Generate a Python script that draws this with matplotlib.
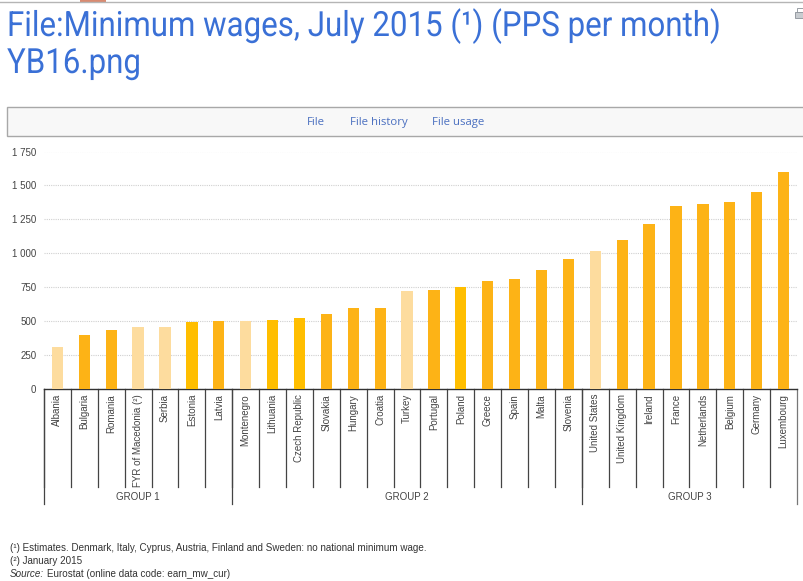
import matplotlib
matplotlib.use('Agg')
import matplotlib.pyplot as plt
from matplotlib.patches import Rectangle
from matplotlib.patheffects import AbstractPathEffect
from matplotlib.transforms import Affine2D

W, H = 804, 581

countries = ['Albania', 'Bulgaria', 'Romania', 'FYR of Macedonia (²)', 'Serbia', 'Estonia', 'Latvia',
             'Montenegro', 'Lithuania', 'Czech Republic', 'Slovakia', 'Hungary', 'Croatia', 'Turkey',
             'Portugal', 'Poland', 'Greece', 'Spain', 'Malta', 'Slovenia',
             'United States', 'United Kingdom', 'Ireland', 'France', 'Netherlands', 'Belgium', 'Germany',
             'Luxembourg']
wages = [310, 400, 435, 455, 458, 492, 500,
         503, 505, 520, 552, 600, 600, 722,
         728, 748, 793, 813, 875, 955,
         1020, 1095, 1215, 1352, 1360, 1375, 1450,
         1597]
groups = ['GROUP 1', 'GROUP 2', 'GROUP 3']
group_sizes = [7, 13, 8]
y_ticks = [0, 250, 500, 750, 1000, 1250, 1500, 1750]
y_labels = ['0', '250', '500', '750', '1 000', '1 250', '1 500', '1 750']

LIGHT, ORANGE, YELLOW = '#fddc9e', '#fdb316', '#ffbe00'
bar_colors = [LIGHT, ORANGE, ORANGE, LIGHT, LIGHT, YELLOW, ORANGE,
              LIGHT, YELLOW, YELLOW, ORANGE, ORANGE, ORANGE, LIGHT,
              ORANGE, YELLOW, ORANGE, ORANGE, ORANGE, ORANGE,
              LIGHT, ORANGE, ORANGE, ORANGE, ORANGE, ORANGE, ORANGE, ORANGE]


class Condensed(AbstractPathEffect):
    # squeezes text horizontally, no condensed font is installed
    def __init__(self, x0, sx):
        super().__init__()
        self.x0, self.sx = x0, sx

    def draw_path(self, renderer, gc, tpath, affine, rgbFace=None):
        squeeze = Affine2D().translate(-self.x0, 0).scale(self.sx, 1).translate(self.x0, 0)
        renderer.draw_path(gc, tpath, affine + squeeze, rgbFace)


plt.rcParams['font.family'] = ['Liberation Sans', 'DejaVu Sans']
fig = plt.figure(figsize=(W / 100, H / 100), dpi=100, facecolor='white')

# page furniture, in pixel coordinates
page = fig.add_axes([0, 0, 1, 1])
page.set_xlim(0, W)
page.set_ylim(H, 0)
page.axis('off')
page.plot([0, W], [1.5, 1.5], color='#b5b5b5', lw=1)
page.add_patch(Rectangle((80, 0), 26, 1.5, color='#d98a70', lw=0))
page.add_patch(Rectangle((7, 107), 805, 29, facecolor='#f8f8f8', edgecolor='#a8a8a8', lw=1))
page.add_patch(Rectangle((795, 12), 9, 6, facecolor='#c8ccd0', edgecolor='#8a9098', lw=0.6))
page.add_patch(Rectangle((797, 8), 7, 4, facecolor='white', edgecolor='#8a9098', lw=0.6))

title_fx = [Condensed(7, 0.9)]
page.text(7, 36, 'File:Minimum wages, July 2015 (¹) (PPS per month)', color='#3a70d6',
          fontsize=25, family=['Roboto', 'DejaVu Sans'], va='baseline', path_effects=title_fx)
page.text(7, 73, 'YB16.png', color='#3a70d6', fontsize=25, family=['Roboto', 'DejaVu Sans'],
          va='baseline', path_effects=title_fx)
for x, label in zip([316, 378.5, 458], ['File', 'File history', 'File usage']):
    page.text(x, 122.5, label, color='#4a6fc0', fontsize=8.2, family='Open Sans', ha='center', va='center')

# chart
ax = fig.add_axes([44 / W, 1 - 389 / H, (797 - 44) / W, (389 - 151.5) / H])
ax.patch.set_alpha(0)
positions = list(range(len(countries)))
ax.bar(positions, wages, width=0.42, color=bar_colors, zorder=3)
ax.set_xlim(-0.5, len(countries) - 0.5)
ax.set_ylim(0, 1750)
ax.set_yticks(y_ticks, y_labels, fontsize=7, color='#444444')
ax.tick_params(axis='y', length=0, pad=5.5)
ax.set_xticks([])
ax.grid(axis='y', color='#d0d0d0', lw=0.8, ls=(0, (1, 1)), zorder=0)
ax.set_axisbelow(True)
for side in ['top', 'right', 'left']:
    ax.spines[side].set_visible(False)
ax.spines['bottom'].set_color('#333333')
ax.spines['bottom'].set_linewidth(1)

# two level axis below the bars
trans = ax.get_xaxis_transform()
short_drop = -98 / (389 - 151.5)
long_drop = -115 / (389 - 151.5)
for i, name in enumerate(countries):
    ax.plot([i - 0.5, i - 0.5], [0, short_drop], transform=trans, color='#444444', lw=0.9, clip_on=False)
    ax.text(i, -5 / (389 - 151.5), name, transform=trans, rotation=90, ha='center', va='top',
            fontsize=7, color='#444444')

start = 0
for name, size in zip(groups, group_sizes):
    ax.plot([start - 0.5, start - 0.5], [0, long_drop], transform=trans, color='#444444', lw=0.9, clip_on=False)
    ax.text(start - 0.5 + size / 2, -108 / (389 - 151.5), name, transform=trans, ha='center', va='center',
            fontsize=7, color='#444444')
    start += size
ax.plot([start - 0.5, start - 0.5], [0, long_drop], transform=trans, color='#777777', lw=0.9, clip_on=False)

# notes
page.text(10, 548, '(¹) Estimates. Denmark, Italy, Cyprus, Austria, Finland and Sweden: no national minimum wage.',
          fontsize=7.12, color='#333333', va='center')
page.text(10, 561, '(²) January 2015', fontsize=7.12, color='#333333', va='center')
page.text(10, 574, 'Source:', fontsize=7.12, color='#333333', va='center', style='italic')
page.text(47, 574, 'Eurostat (online data code: earn_mw_cur)', fontsize=7.12, color='#333333', va='center')

fig.savefig('out.png', dpi=100)
